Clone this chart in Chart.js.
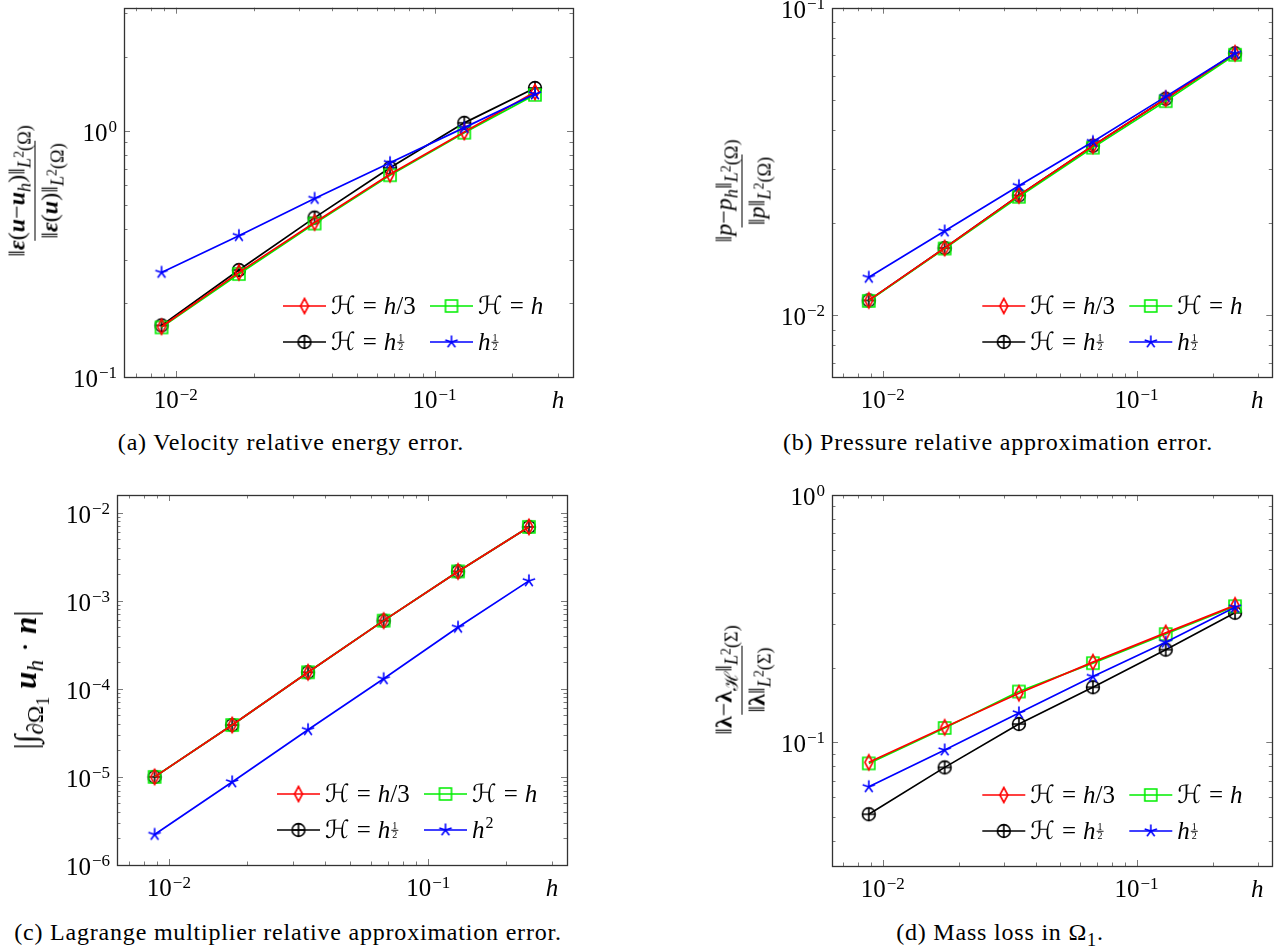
<!DOCTYPE html>
<html>
<head>
<meta charset="utf-8">
<script src="https://cdn.jsdelivr.net/npm/chart.js@4.4.0/dist/chart.umd.min.js"></script>
<style>
body { margin: 0; background: #fff; }
#page { position: relative; width: 1280px; height: 952px; overflow: hidden; font-family: 'Liberation Serif', 'DejaVu Serif', serif; color: #000; }
#page canvas { position: absolute; }
.cap { position: absolute; font-size: 24px; letter-spacing: 0.8px; line-height: 28px; white-space: nowrap; transform: translateX(-50%); }
.ylab { position: absolute; width: 0; height: 0; }
.ylab > div { position: absolute; left: 0; top: 0; transform: translate(-50%, -50%) rotate(-90deg); white-space: nowrap; font-size: 24px; }
.frac { display: inline-flex; flex-direction: column; align-items: center; }
.frac > span { padding: 0 2px; line-height: 26px; }
.frac .num { padding-bottom: 5px; }
.frac .den { border-top: 1.3px solid #000; padding-top: 1px; }
.bi { font-weight: bold; font-style: italic; }
sub, sup { font-size: 76%; line-height: 0; }
</style>
</head>
<body>
<div id="page">
  <canvas id="chartA" width="640" height="420" style="left:0;top:0;width:640px;height:420px"></canvas>
  <canvas id="chartB" width="640" height="420" style="left:640px;top:0;width:640px;height:420px"></canvas>
  <canvas id="chartC" width="640" height="440" style="left:0;top:470px;width:640px;height:440px"></canvas>
  <canvas id="chartD" width="640" height="440" style="left:640px;top:470px;width:640px;height:440px"></canvas>

  <div class="ylab" style="left:33px;top:191px"><div><span class="frac">
    <span class="num">‖<span class="bi">ε</span>(<span class="bi">u</span>−<span class="bi">u</span><sub><i>h</i></sub>)‖<sub><i>L</i><sup>2</sup>(Ω)</sub></span>
    <span class="den">‖<span class="bi">ε</span>(<span class="bi">u</span>)‖<sub><i>L</i><sup>2</sup>(Ω)</sub></span>
  </span></div></div>
  <div class="ylab" style="left:740px;top:191px"><div><span class="frac">
    <span class="num">‖<i>p</i>−<i>p</i><sub><i>h</i></sub>‖<sub><i>L</i><sup>2</sup>(Ω)</sub></span>
    <span class="den">‖<i>p</i>‖<sub><i>L</i><sup>2</sup>(Ω)</sub></span>
  </span></div></div>
  <div class="ylab" style="left:26px;top:680px"><div style="font-size:31px">|∫<sub>∂Ω<sub>1</sub></sub> <span class="bi">u</span><sub><i>h</i></sub> · <span class="bi">n</span>|</div></div>
  <div class="ylab" style="left:740px;top:680px"><div><span class="frac">
    <span class="num">‖<b>λ</b>−<b>λ</b><sub>ℋ</sub>‖<sub><i>L</i><sup>2</sup>(Σ)</sub></span>
    <span class="den">‖<b>λ</b>‖<sub><i>L</i><sup>2</sup>(Σ)</sub></span>
  </span></div></div>

  <div class="cap" style="left:291px;top:428px">(a) Velocity relative energy error.</div>
  <div class="cap" style="left:998px;top:428px">(b) Pressure relative approximation error.</div>
  <div class="cap" style="left:288px;top:918px">(c) Lagrange multiplier relative approximation error.</div>
  <div class="cap" style="left:1000px;top:918px">(d) Mass loss in Ω<sub>1</sub>.</div>
</div>
<script>
// mesh sizes (shared x values)
const hValues = [0.00881, 0.01754, 0.0344, 0.0673, 0.1303, 0.2444];
const xTickExps = [-2, -1];

// (a) velocity relative energy error
const velRed = [0.160, 0.266, 0.424, 0.666, 0.989, 1.438];
const velGreen = [0.159, 0.262, 0.420, 0.660, 0.982, 1.400];
const velBlack = [0.162, 0.272, 0.444, 0.708, 1.077, 1.493];
const velBlue = [0.266, 0.375, 0.531, 0.742, 1.030, 1.410];
const velTickExps = [-1, 0];

// (b) pressure relative error
const presRed = [0.01119, 0.01656, 0.02455, 0.0356, 0.0506, 0.0711];
const presGreen = [0.01115, 0.01650, 0.0243, 0.0351, 0.0497, 0.0703];
const presBlack = [0.01119, 0.01656, 0.02455, 0.0356, 0.0506, 0.0711];
const presBlue = [0.0133, 0.0188, 0.0264, 0.0367, 0.0514, 0.0711];
const presTickExps = [-2, -1];

// (c) |int u_h . n|
const fluxRed = [1.0e-5, 3.88e-5, 1.54e-4, 5.94e-4, 2.15e-3, 6.88e-3];
const fluxGreen = [1.0e-5, 3.88e-5, 1.54e-4, 5.94e-4, 2.15e-3, 6.88e-3];
const fluxBlack = [1.0e-5, 3.88e-5, 1.54e-4, 5.94e-4, 2.15e-3, 6.88e-3];
const fluxBlue = [2.22e-6, 8.77e-6, 3.43e-5, 1.30e-4, 4.99e-4, 1.68e-3];
const fluxTickExps = [-6, -5, -4, -3, -2];

// (d) lambda relative error
const lagRed = [0.0830, 0.115, 0.158, 0.211, 0.277, 0.358];
const lagGreen = [0.0822, 0.1143, 0.1605, 0.209, 0.274, 0.355];
const lagBlack = [0.0512, 0.0792, 0.1186, 0.167, 0.237, 0.334];
const lagBlue = [0.0661, 0.0931, 0.1315, 0.1845, 0.254, 0.352];
const lagTickExps = [-1, 0];

const seriesColors = ['#ff0000', '#00ee00', '#000000', '#0000ff'];

const SERIF = "'Liberation Serif', 'DejaVu Serif', 'DejaVu Sans', serif";

// marker images (pgfplots-like)
function makeMarker(kind, color) {
    const c = document.createElement('canvas');
    c.width = 20; c.height = 20;
    const g = c.getContext('2d');
    g.strokeStyle = color;
    g.lineWidth = 1.6;
    g.beginPath();
    if (kind === 'diamond') {
        g.moveTo(10, 2.5); g.lineTo(14, 10); g.lineTo(10, 17.5); g.lineTo(6, 10); g.closePath();
    } else if (kind === 'square') {
        g.rect(4, 4, 12, 12);
    } else if (kind === 'oplus') {
        g.arc(10, 10, 6.4, 0, Math.PI * 2);
        g.moveTo(3.6, 10); g.lineTo(16.4, 10);
        g.moveTo(10, 3.6); g.lineTo(10, 16.4);
    } else {
        for (let k = 0; k < 5; k++) {
            const a = -Math.PI / 2 + k * 2 * Math.PI / 5;
            g.moveTo(10, 10); g.lineTo(10 + 6.5 * Math.cos(a), 10 + 6.5 * Math.sin(a));
        }
    }
    g.stroke();
    return c;
}
const markers = [
    makeMarker('diamond', seriesColors[0]),
    makeMarker('square', seriesColors[1]),
    makeMarker('oplus', seriesColors[2]),
    makeMarker('star', seriesColors[3])
];

function logTicks(min, max) {
    const out = [];
    for (let d = Math.floor(Math.log10(min)); d <= Math.ceil(Math.log10(max)); d++) {
        for (let k = 1; k <= 9; k++) {
            const v = k * Math.pow(10, d);
            if (v >= min * 0.999 && v <= max * 1.001) out.push({ v: v, major: k === 1 });
        }
    }
    return out;
}

function drawPow(ctx, exp, x, y, align, expRaise) {
    const expStr = exp < 0 ? '\u2212' + Math.abs(exp) : String(exp);
    ctx.font = '25px ' + SERIF;
    const w10 = ctx.measureText('10').width;
    ctx.font = '17px ' + SERIF;
    const wE = ctx.measureText(expStr).width;
    let x0 = align === 'right' ? x - w10 - wE - 1 : x - (w10 + wE + 1) / 2;
    ctx.textAlign = 'left';
    ctx.textBaseline = 'alphabetic';
    ctx.font = '25px ' + SERIF;
    ctx.fillText('10', x0, y);
    ctx.font = '17px ' + SERIF;
    ctx.fillText(expStr, x0 + w10 + 1, y - expRaise);
}

// segments: [text, style] style: n normal, i italic, op (spaced operator), sup, frac
function drawMath(ctx, segs, x, yb) {
    ctx.textAlign = 'left';
    ctx.textBaseline = 'alphabetic';
    let cx = x;
    segs.forEach(s => {
        const [t, st] = s;
        if (st === 'frac') {
            ctx.font = '10px ' + SERIF;
            const w = 7;
            ctx.textAlign = 'center';
            ctx.fillText(t[0], cx + 1 + w / 2, yb - 9);
            ctx.fillText(t[1], cx + 1 + w / 2, yb - 0.5);
            ctx.fillRect(cx + 1, yb - 8.2, w, 0.9);
            ctx.textAlign = 'left';
            cx += w + 2;
        } else if (st === 'sup') {
            ctx.font = '16px ' + SERIF;
            ctx.fillText(t, cx + 1, yb - 10);
            cx += ctx.measureText(t).width + 1;
        } else if (st === 'op') {
            ctx.font = '25px ' + SERIF;
            cx += 7;
            ctx.fillText(t, cx, yb);
            cx += ctx.measureText(t).width + 7;
        } else {
            ctx.font = (st === 'i' ? 'italic ' : '') + '25px ' + SERIF;
            ctx.fillText(t, cx, yb);
            cx += ctx.measureText(t).width;
        }
    });
}

const frameAndLabels = {
    id: 'frameAndLabels',
    afterDraw(chart) {
        const o = chart.options.plugins.frameAndLabels;
        const ctx = chart.ctx;
        const a = chart.chartArea;
        const xs = chart.scales.x, ys = chart.scales.y;
        ctx.save();
        // inward ticks on all four sides
        ctx.strokeStyle = '#7a7a7a';
        ctx.lineWidth = 1;
        ctx.beginPath();
        logTicks(xs.min, xs.max).forEach(t => {
            const px = Math.round(xs.getPixelForValue(t.v)) + 0.5;
            const len = t.major ? 6 : 3.5;
            ctx.moveTo(px, a.bottom); ctx.lineTo(px, a.bottom - len);
            ctx.moveTo(px, a.top); ctx.lineTo(px, a.top + len);
        });
        logTicks(ys.min, ys.max).forEach(t => {
            const py = Math.round(ys.getPixelForValue(t.v)) + 0.5;
            const len = t.major ? 6 : 3.5;
            ctx.moveTo(a.left, py); ctx.lineTo(a.left + len, py);
            ctx.moveTo(a.right, py); ctx.lineTo(a.right - len, py);
        });
        ctx.stroke();
        // frame
        ctx.strokeStyle = '#333';
        ctx.lineWidth = 1.3;
        ctx.strokeRect(Math.round(a.left) + 0.5, Math.round(a.top) + 0.5,
            Math.round(a.right - a.left), Math.round(a.bottom - a.top));
        // tick labels
        ctx.fillStyle = '#000';
        xTickExps.forEach(e => {
            drawPow(ctx, e, xs.getPixelForValue(Math.pow(10, e)), a.bottom + 31, 'center', 8);
        });
        o.yTicks.forEach(e => {
            drawPow(ctx, e, a.left - 7, ys.getPixelForValue(Math.pow(10, e)) + 10, 'right', 9);
        });
        ctx.font = 'italic 25px ' + SERIF;
        ctx.textAlign = 'center';
        ctx.fillText('h', a.right - 15, a.bottom + 31);
        // legend, two columns inside the plot box
        const cols = [a.right - 290, a.right - 143];
        const rows = [a.bottom - 71, a.bottom - 35];
        o.legend.forEach((segs, i) => {
            const lx = cols[i % 2], ly = rows[Math.floor(i / 2)];
            ctx.strokeStyle = seriesColors[i];
            ctx.lineWidth = 1.6;
            ctx.beginPath();
            ctx.moveTo(lx, ly); ctx.lineTo(lx + 43, ly);
            ctx.stroke();
            ctx.drawImage(markers[i], lx + 21.5 - 10, ly - 10);
            ctx.fillStyle = '#000';
            drawMath(ctx, segs, lx + 48, ly + 8);
        });
        ctx.restore();
    }
};

const legendStd = [
    [['ℋ', 'n'], ['=', 'op'], ['h', 'i'], ['/3', 'n']],
    [['ℋ', 'n'], ['=', 'op'], ['h', 'i']],
    [['ℋ', 'n'], ['=', 'op'], ['h', 'i'], [['1', '2'], 'frac']],
    [['h', 'i'], [['1', '2'], 'frac']]
];
const legendFlux = [
    legendStd[0], legendStd[1], legendStd[2],
    [['h', 'i'], ['2', 'sup']]
];

function makePanel(id, geo, yMin, yMax, values, yTicks, legend) {
    const datasets = values.map((vals, i) => ({
        data: hValues.map((h, j) => ({ x: h, y: vals[j] })),
        borderColor: seriesColors[i],
        backgroundColor: seriesColors[i],
        borderWidth: 1.7,
        pointStyle: markers[i],
        pointRadius: 6,
        fill: false,
        tension: 0,
        order: i === 3 ? 0 : 1
    }));
    return new Chart(document.getElementById(id), {
        type: 'line',
        data: { datasets: datasets },
        options: {
            responsive: false,
            animation: false,
            devicePixelRatio: 1,
            layout: { padding: { left: 0, top: geo.top, right: geo.right, bottom: 0 } },
            plugins: {
                legend: { display: false },
                tooltip: { enabled: false },
                frameAndLabels: { yTicks: yTicks, legend: legend }
            },
            scales: {
                x: {
                    type: 'logarithmic',
                    min: Math.pow(10, -2.2),
                    max: Math.pow(10, -0.465),
                    grid: { display: false },
                    border: { display: false },
                    ticks: { display: false },
                    afterFit: s => { s.height = geo.xh; }
                },
                y: {
                    type: 'logarithmic',
                    min: yMin,
                    max: yMax,
                    grid: { display: false },
                    border: { display: false },
                    ticks: { display: false },
                    afterFit: s => { s.width = geo.yw; }
                }
            }
        },
        plugins: [frameAndLabels]
    });
}

makePanel('chartA', { top: 5, right: 67, xh: 43, yw: 124 }, 0.1, Math.pow(10, 0.5),
    [velRed, velGreen, velBlack, velBlue], velTickExps, legendStd);
makePanel('chartB', { top: 5, right: 1, xh: 43, yw: 192 }, Math.pow(10, -2.2), 0.1,
    [presRed, presGreen, presBlack, presBlue], presTickExps, legendStd);
makePanel('chartC', { top: 25, right: 73, xh: 45, yw: 117 }, 1e-6, Math.pow(10, -1.8),
    [fluxRed, fluxGreen, fluxBlack, fluxBlue], fluxTickExps, legendFlux);
makePanel('chartD', { top: 25, right: 1, xh: 44, yw: 192 }, Math.pow(10, -1.5), 1,
    [lagRed, lagGreen, lagBlack, lagBlue], lagTickExps, legendStd);
</script>
</body>
</html>
